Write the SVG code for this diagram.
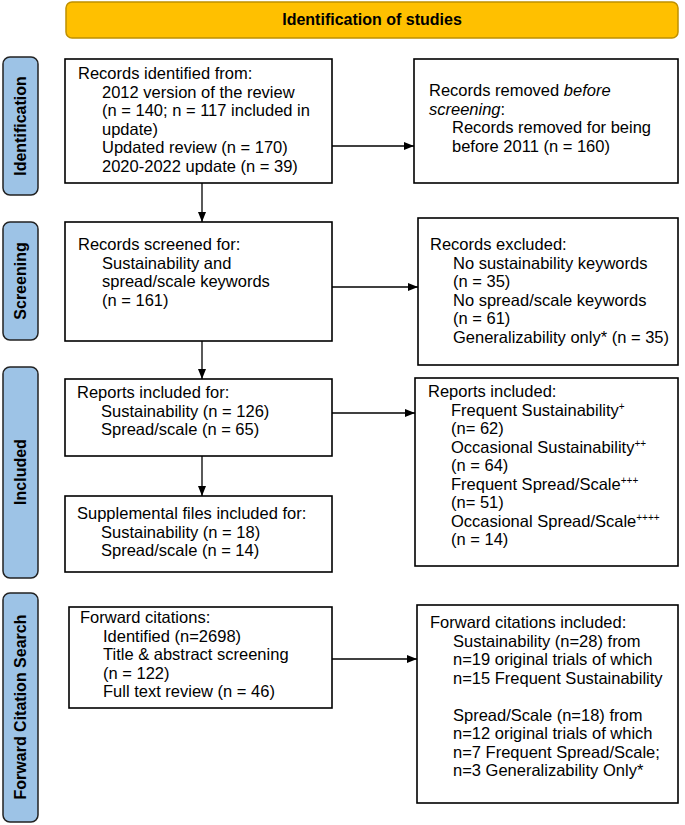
<svg xmlns="http://www.w3.org/2000/svg" width="685" height="825" viewBox="0 0 685 825">
<defs>
<style>
.box{fill:#fff;stroke:#000;stroke-width:1.6}
.lab{fill:#9DC3E6;stroke:#222;stroke-width:1.5}
.ban{fill:#FFC000;stroke:#BF9000;stroke-width:1.5}
text{font-family:"Liberation Sans",Arial,sans-serif;font-size:16.5px;fill:#000}
.b{font-weight:bold;font-size:16px}
.sup{font-size:10px}
.con{stroke:#000;stroke-width:1.3;fill:none;marker-end:url(#ah)}
</style>
<marker id="ah" viewBox="0 0 10 10" refX="10" refY="5" markerWidth="10" markerHeight="10" markerUnits="userSpaceOnUse" orient="auto">
<path d="M0,1 L10,5 L0,9 Z" fill="#000"/>
</marker>
</defs>
<rect width="685" height="825" fill="#fff"/>

<g id="banner">
<rect class="ban" x="66" y="2" width="612" height="36" rx="6"/>
<text class="b" x="372" y="25" text-anchor="middle">Identification of studies</text>
</g>

<g id="label-identification">
<rect class="lab" x="3" y="57" width="35" height="138" rx="7"/>
<text class="b" transform="translate(26,126) rotate(-90)" text-anchor="middle">Identification</text>
</g>
<g id="label-screening">
<rect class="lab" x="3" y="222" width="35" height="118" rx="7"/>
<text class="b" transform="translate(26,281) rotate(-90)" text-anchor="middle">Screening</text>
</g>
<g id="label-included">
<rect class="lab" x="3" y="367" width="35" height="211" rx="7"/>
<text class="b" transform="translate(26,472) rotate(-90)" text-anchor="middle">Included</text>
</g>
<g id="label-forward">
<rect class="lab" x="3" y="593" width="35" height="229" rx="7"/>
<text class="b" transform="translate(26,707) rotate(-90)" text-anchor="middle">Forward Citation Search</text>
</g>

<g id="records-identified">
<rect class="box" x="65" y="59" width="267" height="124"/>
<text x="78" y="79">Records identified from:</text>
<text x="102" y="97.5">2012 version of the review</text>
<text x="102" y="116">(n = 140; n = 117 included in</text>
<text x="102" y="134.5">update)</text>
<text x="102" y="153">Updated review (n = 170)</text>
<text x="102" y="171.5">2020-2022 update (n = 39)</text>
</g>

<g id="records-removed">
<rect class="box" x="414" y="59" width="264" height="124"/>
<text x="429" y="96">Records removed <tspan font-style="italic">before</tspan></text>
<text x="429" y="114.5"><tspan font-style="italic">screening</tspan>:</text>
<text x="452" y="133">Records removed for being</text>
<text x="452" y="151.5">before 2011 (n = 160)</text>
</g>

<g id="records-screened">
<rect class="box" x="65" y="222" width="267" height="119"/>
<text x="78" y="250">Records screened for:</text>
<text x="102" y="268.5">Sustainability and</text>
<text x="102" y="287">spread/scale keywords</text>
<text x="102" y="305.5">(n = 161)</text>
</g>

<g id="records-excluded">
<rect class="box" x="418" y="218" width="260" height="147"/>
<text x="430" y="250">Records excluded:</text>
<text x="453" y="268.5">No sustainability keywords</text>
<text x="453" y="287">(n = 35)</text>
<text x="453" y="305.5">No spread/scale keywords</text>
<text x="453" y="324">(n = 61)</text>
<text x="453" y="342.5">Generalizability only* (n = 35)</text>
</g>

<g id="reports-included-for">
<rect class="box" x="65" y="379" width="267" height="77"/>
<text x="77" y="398">Reports included for:</text>
<text x="101" y="416.5">Sustainability (n = 126)</text>
<text x="101" y="435">Spread/scale (n = 65)</text>
</g>

<g id="reports-included">
<rect class="box" x="415" y="378" width="263" height="188"/>
<text x="428" y="397">Reports included:</text>
<text x="451" y="415.5">Frequent Sustainability<tspan class="sup" dy="-6">+</tspan></text>
<text x="451" y="434">(n= 62)</text>
<text x="451" y="452.5">Occasional Sustainability<tspan class="sup" dy="-6">++</tspan></text>
<text x="451" y="471">(n = 64)</text>
<text x="451" y="489.5">Frequent Spread/Scale<tspan class="sup" dy="-6">+++</tspan></text>
<text x="451" y="508">(n= 51)</text>
<text x="451" y="526.5">Occasional Spread/Scale<tspan class="sup" dy="-6">++++</tspan></text>
<text x="451" y="545">(n = 14)</text>
</g>

<g id="supplemental">
<rect class="box" x="65" y="496" width="267" height="76"/>
<text x="77" y="519">Supplemental files included for:</text>
<text x="101" y="537.5">Sustainability (n = 18)</text>
<text x="101" y="556">Spread/scale (n = 14)</text>
</g>

<g id="forward-citations">
<rect class="box" x="69" y="607" width="263" height="101"/>
<text x="80" y="623">Forward citations:</text>
<text x="103" y="641.5">Identified (n=2698)</text>
<text x="103" y="660">Title &amp; abstract screening</text>
<text x="103" y="678.5">(n = 122)</text>
<text x="103" y="697">Full text review (n = 46)</text>
</g>

<g id="forward-included">
<rect class="box" x="417" y="605" width="261" height="198"/>
<text x="430" y="628">Forward citations included:</text>
<text x="453" y="646.5">Sustainability (n=28) from</text>
<text x="453" y="665">n=19 original trials of which</text>
<text x="453" y="683.5">n=15 Frequent Sustainability</text>
<text x="453" y="720.5">Spread/Scale (n=18) from</text>
<text x="453" y="739">n=12 original trials of which</text>
<text x="453" y="757.5">n=7 Frequent Spread/Scale;</text>
<text x="453" y="776">n=3 Generalizability Only*</text>
</g>

<g id="connectors">
<line class="con" x1="332" y1="146" x2="414" y2="146"/>
<line class="con" x1="202" y1="183" x2="202" y2="222"/>
<line class="con" x1="332" y1="287" x2="418" y2="287"/>
<line class="con" x1="202" y1="341" x2="202" y2="379"/>
<line class="con" x1="332" y1="413" x2="415" y2="413"/>
<line class="con" x1="202" y1="456" x2="202" y2="496"/>
<line class="con" x1="332" y1="659" x2="417" y2="659"/>
</g>
</svg>
